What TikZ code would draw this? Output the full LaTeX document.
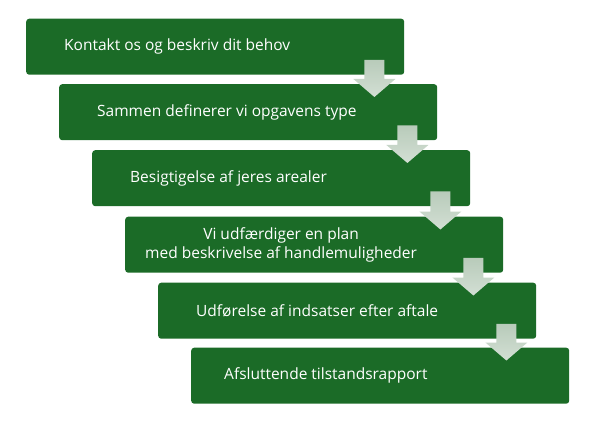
\documentclass[tikz,border=0pt]{standalone}
\usepackage{fontspec}
\setmainfont{Open Sans}
\usetikzlibrary{calc}
\definecolor{boxgreen}{HTML}{1B6B27}
\definecolor{arrtop}{HTML}{B8CBBA}
\definecolor{arrbot}{HTML}{D3DFD4}
\begin{document}
\begin{tikzpicture}[x=1pt,y=-1pt,
  stepbox/.style={fill=boxgreen, rounded corners=3pt, minimum width=378pt, minimum height=56pt, anchor=north west, inner sep=0pt},
  lbl/.style={text=white, font=\fontsize{15.5}{19.5}\selectfont, anchor=west, align=left, inner sep=0pt},
  lblc/.style={lbl, align=center},
  flow/.style={top color=arrtop, bottom color=arrbot}]
\useasboundingbox (0,0) rectangle (593,430);
\node[stepbox] (b1) at (26,18.5) {};
\node[stepbox] (b2) at (59,84) {};
\node[stepbox] (b3) at (92,150) {};
\node[stepbox] (b4) at (125,216.5) {};
\node[stepbox] (b5) at (158,282.5) {};
\node[stepbox] (b6) at (191,347.5) {};
\node[lbl] (l1) at ($(b1.west)+(38,0)$) {Kontakt os og beskriv dit behov};
\node[lbl] (l2) at ($(b2.west)+(38,0)$) {Sammen definerer vi opgavens type};
\node[lbl] (l3) at ($(b3.west)+(38,0)$) {Besigtigelse af jeres arealer};
\node[lblc] (l4) at ($(b4.west)+(20,0)$) {Vi udfærdiger en plan\\med beskrivelse af handlemuligheder};
\node[lbl] (l5) at ($(b5.west)+(38,0)$) {Udførelse af indsatser efter aftale};
\node[lbl] (l6) at ($(b6.west)+(33,0)$) {Afsluttende tilstandsrapport};
\foreach \a/\b in {b1/b2,b2/b3,b3/b4,b4/b5,b5/b6}{
  \path let \p1=(\a.south east), \p2=(\b.north) in
    [flow] (\x1-40pt,\y1+15pt) -- (\x1-20pt,\y1+15pt) -- (\x1-20pt,\y2+5pt)
      -- (\x1-9pt,\y2+5pt) -- (\x1-30pt,\y2-13pt) -- (\x1-51pt,\y2+5pt)
      -- (\x1-40pt,\y2+5pt) -- cycle;
}
\end{tikzpicture}
\end{document}
